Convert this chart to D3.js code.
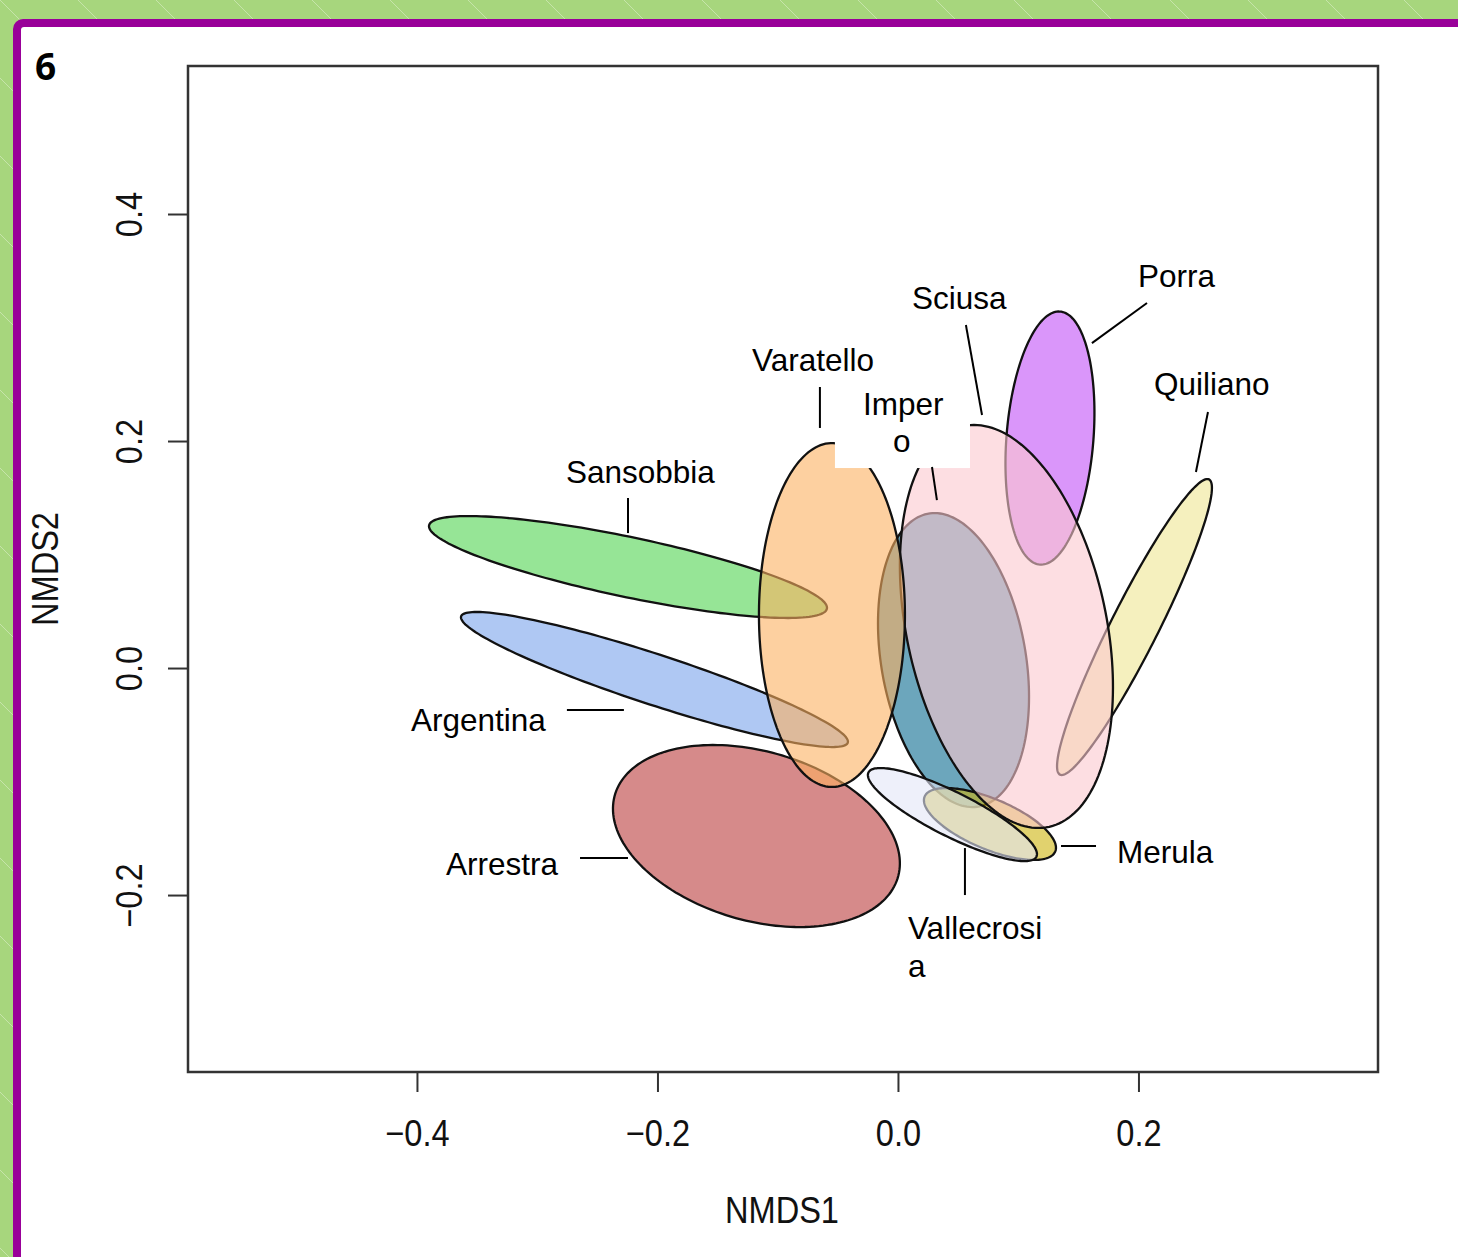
<!DOCTYPE html>
<html>
<head>
<meta charset="utf-8">
<script src="https://cdn.jsdelivr.net/npm/d3@7"></script>
<style>
  html, body { margin: 0; padding: 0; background: #fff; }
  svg { display: block; }
</style>
</head>
<body>
<div id="chart"></div>
<script>
// ---------- DATA (ordination ellipses, NMDS units) ----------
const groups   = ["Argentina","Arrestra","Imperia","Merula","Porra","Quiliano","Sansobbia","Sciusa","Vallecrosia","Varatello"];
const centerX  = [-0.2025, -0.1177, 0.0462, 0.0765, 0.1264, 0.1967, -0.2245, 0.0902, 0.0453, -0.0549];
const centerY  = [-0.0101, -0.1480, 0.0070, -0.1374, 0.2026, 0.0361, 0.0890, 0.0366, -0.1291, 0.0467];
const spreadX  = [0.1609, 0.1193, 0.0628, 0.0549, 0.0370, 0.0644, 0.1655, 0.0886, 0.0703, 0.0607];
const spreadY  = [0.0595, 0.0802, 0.1295, 0.0317, 0.1115, 0.1304, 0.0449, 0.1775, 0.0410, 0.1515];
const corr     = [-0.92, -0.30, -0.25, -0.66, 0.20, 0.94, -0.80, -0.30, -0.85, 0.00];

const xTicks = [-0.4, -0.2, 0.0, 0.2];
const yTicks = [-0.2, 0.0, 0.2, 0.4];
const xTitle = "NMDS1";
const yTitle = "NMDS2";
const panelTag = "6";

// label text lines
const labelNames = ["Sansobbia","Argentina","Arrestra","Varatello","Imperia","Sciusa","Porra","Quiliano","Merula","Vallecrosia"];
const labelLines = [["Sansobbia"],["Argentina"],["Arrestra"],["Varatello"],["Imper","o"],["Sciusa"],["Porra"],["Quiliano"],["Merula"],["Vallecrosi","a"]];

// ---------- STYLE ----------
const fills = {
  Argentina:"#7aa3eb", Arrestra:"#bb3c3c", Imperia:"#0a6a90", Merula:"#cdb40d",
  Porra:"#c150f7", Quiliano:"#eee693", Sansobbia:"#50d450", Sciusa:"#fcc8cf",
  Vallecrosia:"#e3e6f7", Varatello:"#fcb161"
};

const W = 1458, H = 1257;
const plot = {left:188, right:1378, top:66, bottom:1072};

const x = d3.scaleLinear().domain([-0.5904, 0.3992]).range([plot.left, plot.right]);
const y = d3.scaleLinear().domain([-0.3559, 0.5304]).range([plot.bottom, plot.top]);

// label layout (data coordinates)
const labelPos = {
  Sansobbia:  {x:-0.2761, y:0.1630, lines:[[-0.2245,0.1498,-0.2245,0.1189]]},
  Argentina:  {x:-0.4050, y:-0.0555, lines:[[-0.2753,-0.0370,-0.2279,-0.0370]]},
  Arrestra:   {x:-0.3759, y:-0.1824, lines:[[-0.2644,-0.1674,-0.2245,-0.1674]]},
  Varatello:  {x:-0.1214, y:0.2617, lines:[[-0.0649,0.2476,-0.0649,0.2115]]},
  Imperia:    {x:-0.0291, y:0.2229, x2:-0.0042, y2:0.1903, lines:[[0.0283,0.1771,0.0324,0.1480]],
               box:[-0.0524,0.2537,0.0599,0.1762]},
  Sciusa:     {x:0.0116, y:0.3163, lines:[[0.0565,0.3022,0.0699,0.2229]]},
  Porra:      {x:0.1996, y:0.3357, lines:[[0.2071,0.3216,0.1613,0.2863]]},
  Quiliano:   {x:0.2129, y:0.2405, lines:[[0.2578,0.2256,0.2478,0.1727]]},
  Merula:     {x:0.1821, y:-0.1718, lines:[[0.1356,-0.1568,0.1647,-0.1568]]},
  Vallecrosia:{x:0.0083, y:-0.2388, x2:0.0083, y2:-0.2722, lines:[[0.0557,-0.1586,0.0557,-0.2000]]}
};

const svg = d3.select("#chart").append("svg").attr("width", W).attr("height", H);
const defs = svg.append("defs");
const pat = defs.append("pattern").attr("id","stripes").attr("patternUnits","userSpaceOnUse")
  .attr("width",78).attr("height",78);
pat.append("rect").attr("width",78).attr("height",78).attr("fill","#a7d67d");
pat.append("path").attr("d","M-2,-2 L80,80 M-80,-2 L2,80 M76,-2 L158,80")
  .attr("stroke","rgba(255,255,255,0.35)").attr("stroke-width",1);

svg.append("rect").attr("width",W).attr("height",H).attr("fill","url(#stripes)");
svg.append("rect").attr("x",13).attr("y",19).attr("width",W+20).attr("height",H+20).attr("rx",10).attr("fill","#990099");
svg.append("rect").attr("x",21).attr("y",27).attr("width",W+20).attr("height",H+20).attr("rx",3).attr("fill","#ffffff");

// panel tag
svg.append("text").attr("x",35).attr("y",80).text(panelTag)
  .attr("font-family","'Open Sans', 'DejaVu Sans', sans-serif").attr("font-weight","bold")
  .attr("font-size",37).attr("fill","#000");

// ellipses
const ellipseData = groups.map((g,i) => {
  const d = Math.acos(corr[i]);
  const pts = d3.range(0, 181).map(k => {
    const t = k / 180 * 2 * Math.PI;
    return [centerX[i] + spreadX[i] * Math.cos(t + d/2),
            centerY[i] + spreadY[i] * Math.cos(t - d/2)];
  });
  return {group:g, pts};
});
const line = d3.line().x(p => x(p[0])).y(p => y(p[1])).curve(d3.curveLinearClosed);

svg.append("g").selectAll("path").data(ellipseData).join("path")
  .attr("d", d => line(d.pts))
  .attr("fill", d => fills[d.group])
  .attr("fill-opacity", 0.6)
  .attr("stroke", "#111")
  .attr("stroke-width", 2.3);

// labels
const lab = svg.append("g").attr("font-family","'Liberation Sans', Arial, sans-serif")
  .attr("font-size",31.5).attr("fill","#000");
labelNames.forEach((name, i) => {
  const p = labelPos[name];
  if (p.box) {
    lab.append("rect").attr("x", x(p.box[0])).attr("y", y(p.box[1]))
      .attr("width", x(p.box[2]) - x(p.box[0])).attr("height", y(p.box[3]) - y(p.box[1]))
      .attr("fill","#fff");
  }
  lab.append("text").attr("x", x(p.x)).attr("y", y(p.y)).text(labelLines[i][0]);
  if (labelLines[i].length > 1) {
    lab.append("text").attr("x", x(p.x2)).attr("y", y(p.y2)).text(labelLines[i][1]);
  }
  p.lines.forEach(l => {
    lab.append("line").attr("x1", x(l[0])).attr("y1", y(l[1])).attr("x2", x(l[2])).attr("y2", y(l[3]))
      .attr("stroke","#000").attr("stroke-width",2);
  });
});

// axes
const fmt = d3.format(".1f");
const axFont = "'Liberation Sans', Arial, sans-serif";
const gx = svg.append("g").attr("transform", `translate(0,${plot.bottom})`)
  .call(d3.axisBottom(x).tickValues(xTicks).tickSize(20).tickFormat(fmt));
gx.select(".domain").remove();
gx.selectAll(".tick line").attr("stroke","#333").attr("stroke-width",2);
gx.selectAll(".tick text").attr("y",74).attr("dy",null)
  .attr("font-family",axFont).attr("font-size",37).attr("fill","#111")
  .attr("transform","scale(0.88,1)");

const gy = svg.append("g").attr("transform", `translate(${plot.left},0)`)
  .call(d3.axisLeft(y).tickValues(yTicks).tickSize(20).tickFormat(fmt));
gy.select(".domain").remove();
gy.selectAll(".tick line").attr("stroke","#333").attr("stroke-width",2);
gy.selectAll(".tick text").attr("x",0).attr("y",0).attr("dy",null)
  .attr("text-anchor","middle")
  .attr("font-family",axFont).attr("font-size",37).attr("fill","#111")
  .attr("transform","translate(-46,0) rotate(-90) scale(0.88,1)");

// titles
svg.append("text").attr("transform",`translate(${(plot.left+plot.right)/2 - 1},1223) scale(0.88,1)`)
  .attr("text-anchor","middle").attr("font-family",axFont).attr("font-size",37).attr("fill","#111").text(xTitle);
svg.append("text").attr("transform",`translate(58,${(plot.top+plot.bottom)/2}) rotate(-90) scale(0.88,1)`)
  .attr("text-anchor","middle").attr("font-family",axFont).attr("font-size",37).attr("fill","#111").text(yTitle);

// box
svg.append("rect").attr("x",plot.left).attr("y",plot.top)
  .attr("width",plot.right-plot.left).attr("height",plot.bottom-plot.top)
  .attr("fill","none").attr("stroke","#333").attr("stroke-width",2.5);
</script>
</body>
</html>
